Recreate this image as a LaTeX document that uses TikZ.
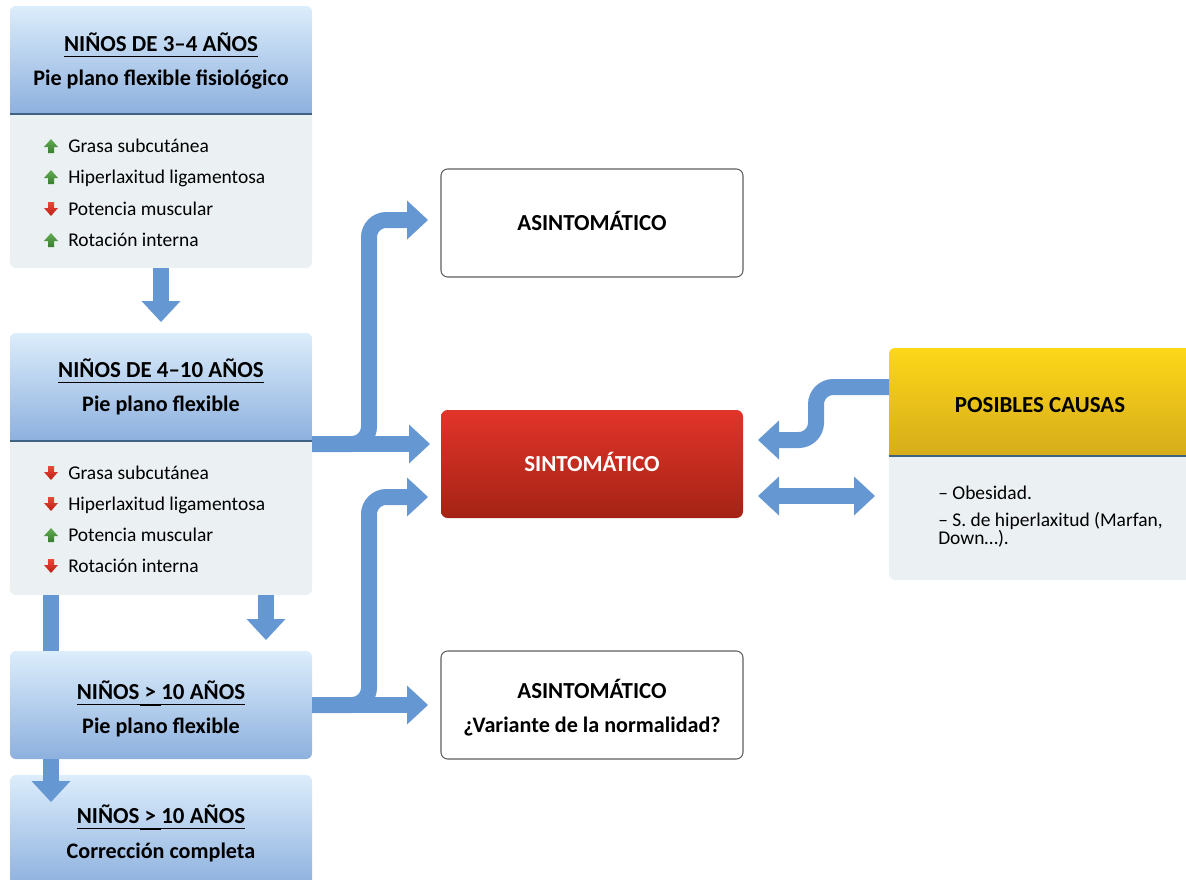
\documentclass[tikz,border=0pt]{standalone}
\usepackage{fontspec}
\setmainfont{Carlito}
\usetikzlibrary{arrows.meta,calc}

\definecolor{cblue}{RGB}{101,152,210}
\definecolor{hdtop}{RGB}{220,237,251}
\definecolor{hdbot}{RGB}{141,176,222}
\definecolor{bodyc}{RGB}{235,240,243}
\definecolor{divc}{RGB}{64,98,130}
\definecolor{redtop}{RGB}{226,52,42}
\definecolor{redbot}{RGB}{164,35,20}
\definecolor{yeltop}{RGB}{253,215,24}
\definecolor{yelbot}{RGB}{214,172,27}
\definecolor{gtop}{RGB}{100,172,84}
\definecolor{gbot}{RGB}{56,126,46}
\definecolor{rtop}{RGB}{234,72,56}
\definecolor{rbot}{RGB}{188,30,20}
\definecolor{edgec}{RGB}{95,95,95}

% underlined heading text
\newcommand\ulin[1]{\setbox0\hbox{#1}\rlap{\rule[-4.4pt]{\wd0}{0.8pt}}\box0\relax}
% heavier underline stroke under the "greater than" sign
\newcommand\thk[1]{\setbox2\hbox{#1}\rlap{\rule[-4.9pt]{\wd2}{1.5pt}}\box2\relax}

\begin{document}
\begin{tikzpicture}[x=0.75pt,y=-0.75pt,
  panel/.style={fill=bodyc, rounded corners=4.5pt, inner sep=0pt, outer sep=0pt},
  bluebox/.style={top color=hdtop, bottom color=hdbot, rounded corners=4.5pt,
    inner sep=0pt, outer sep=0pt, minimum width=226.5pt, minimum height=81pt},
  whitebox/.style={fill=white, draw=edgec, line width=0.8pt, rounded corners=5pt,
    inner sep=0pt, outer sep=0pt, minimum width=226.5pt, minimum height=81pt},
  redbox/.style={top color=redtop, bottom color=redbot, rounded corners=5pt,
    inner sep=0pt, outer sep=0pt, minimum width=226.5pt, minimum height=81pt},
  hdr/.style={font=\fontsize{16.6}{19}\selectfont\bfseries, text height=10.7pt,
    text depth=0pt, inner sep=0pt},
  caps/.style={font=\fontsize{17.2}{20}\selectfont\bfseries, text height=11.1pt,
    text depth=0pt, inner sep=0pt},
  item/.style={font=\fontsize{14.6}{17}\selectfont, text height=9.4pt,
    text depth=0pt, inner sep=0pt, anchor=west},
  divider/.style={draw=divc, line width=1pt},
  shaft/.style={draw=cblue, line width=12pt},
  conn/.style={shaft, -{Triangle[length=15.75pt 0 0, width=29.25pt 0 0, line width=0pt 0 0]}},
  twoway/.style={shaft, {Triangle[length=15.75pt 0 0, width=29.25pt 0 0, line width=0pt 0 0]}-{Triangle[length=15.75pt 0 0, width=29.25pt 0 0, line width=0pt 0 0]}},
  upicon/.pic={\shade[top color=gtop, bottom color=gbot]
    (-7,1) -- (0,-7) -- (7,1) -- (3,1) -- (3,7) -- (-3,7) -- (-3,1) -- cycle;},
  downicon/.pic={\shade[top color=rtop, bottom color=rbot]
    (-3,-7) -- (3,-7) -- (3,-1) -- (7,-1) -- (0,7) -- (-7,-1) -- (-3,-1) -- cycle;}
]
\useasboundingbox (0,0) rectangle (1186,879);
\clip (0,0) rectangle (1186,879);

% ---------- 3-4 years panel ----------
\node[panel, minimum width=226.5pt, minimum height=196.5pt] (b1) at (161,137) {};
\begin{scope}
  \clip[rounded corners=4.5pt] (b1.north west) rectangle (b1.south east);
  \shade[top color=hdtop, bottom color=hdbot] (b1.north west) rectangle ($(b1.north east)+(0,108)$);
\end{scope}
\draw[divider] ($(b1.north west)+(0,108)$) -- ($(b1.north east)+(0,108)$);
\node[caps] (b1t) at ($(b1.north)+(0,38)$) {\ulin{NIÑOS DE 3–4 AÑOS}};
\node[hdr] (b1s) at ($(b1.north)+(0,72)$) {Pie plano flexible fisiológico};
\pic at ($(b1.north west)+(41,140)$) {upicon};
\node[item] (b1i1) at ($(b1.north west)+(58,140)$) {Grasa subcutánea};
\pic at ($(b1.north west)+(41,171)$) {upicon};
\node[item] (b1i2) at ($(b1.north west)+(58,171)$) {Hiperlaxitud ligamentosa};
\pic at ($(b1.north west)+(41,203)$) {downicon};
\node[item] (b1i3) at ($(b1.north west)+(58,203)$) {Potencia muscular};
\pic at ($(b1.north west)+(41,234)$) {upicon};
\node[item] (b1i4) at ($(b1.north west)+(58,234)$) {Rotación interna};

% ---------- 4-10 years panel ----------
\node[panel, minimum width=226.5pt, minimum height=196.5pt] (b2) at (161,464) {};
\begin{scope}
  \clip[rounded corners=4.5pt] (b2.north west) rectangle (b2.south east);
  \shade[top color=hdtop, bottom color=hdbot] (b2.north west) rectangle ($(b2.north east)+(0,108)$);
\end{scope}
\draw[divider] ($(b2.north west)+(0,108)$) -- ($(b2.north east)+(0,108)$);
\node[caps] (b2t) at ($(b2.north)+(0,37)$) {\ulin{NIÑOS DE 4–10 AÑOS}};
\node[hdr] (b2s) at ($(b2.north)+(0,71)$) {Pie plano flexible};
\pic at ($(b2.north west)+(41,140)$) {downicon};
\node[item] (b2i1) at ($(b2.north west)+(58,140)$) {Grasa subcutánea};
\pic at ($(b2.north west)+(41,171)$) {downicon};
\node[item] (b2i2) at ($(b2.north west)+(58,171)$) {Hiperlaxitud ligamentosa};
\pic at ($(b2.north west)+(41,202)$) {upicon};
\node[item] (b2i3) at ($(b2.north west)+(58,202)$) {Potencia muscular};
\pic at ($(b2.north west)+(41,233)$) {downicon};
\node[item] (b2i4) at ($(b2.north west)+(58,233)$) {Rotación interna};

% ---------- older children ----------
\node[bluebox] (b3) at (161,705) {};
\node[caps] (b3t) at ($(b3.north)+(0,41)$) {\ulin{NIÑOS\thk{ > }10 AÑOS}};
\node[hdr] (b3s) at ($(b3.north)+(0,75)$) {Pie plano flexible};

\node[bluebox, minimum height=84pt] (b4) at (161,831) {};
\node[caps] (b4t) at ($(b4.north)+(0,41)$) {\ulin{NIÑOS\thk{ > }10 AÑOS}};
\node[hdr] (b4s) at ($(b4.north)+(0,76)$) {Corrección completa};

% ---------- outcomes ----------
\node[whitebox, caps, minimum width=226.5pt, minimum height=81pt] (a1) at (592,223) {ASINTOMÁTICO};
\node[redbox, caps, text=white, minimum width=226.5pt, minimum height=81pt] (s) at (592,464) {SINTOMÁTICO};
\node[whitebox] (a2) at (592,705) {};
\node[caps] (a2t) at ($(a2.north)+(0,40)$) {ASINTOMÁTICO};
\node[hdr] (a2s) at ($(a2.north)+(0,74)$) {¿Variante de la normalidad?};

% ---------- possible causes ----------
\node[panel, minimum width=229.5pt, minimum height=174pt] (c) at (1042,464) {};
\begin{scope}
  \clip[rounded corners=4.5pt] (c.north west) rectangle (c.south east);
  \shade[top color=yeltop, bottom color=yelbot] (c.north west) rectangle ($(c.north east)+(0,108)$);
\end{scope}
\draw[divider] ($(c.north west)+(0,108)$) -- ($(c.north east)+(0,108)$);
\node[caps] (ct) at ($(c.north)+(-2,57)$) {POSIBLES CAUSAS};
\node[item] (c1) at ($(c.north west)+(49,145)$) {– Obesidad.};
\node[font=\fontsize{14.6}{13.5}\selectfont, inner sep=0pt, anchor=north west, align=left]
  (c2) at ($(c.north west)+(49,164)$) {– S. de hiperlaxitud (Marfan,\\Down…).};

% ---------- connectors ----------
\draw[conn] (b1.south) -- ($(b2.north)+(0,-11)$);
\draw[shaft] ($(b2.south west)+(41,0)$) -- ($(b3.north west)+(41,0)$);
\draw[conn] ($(b2.south east)+(-46,0)$) -- ($(b3.north east)+(-46,-11)$);
\draw[conn] ($(b3.south west)+(41,0)$) -- ($(b4.north west)+(41,27)$);

\draw[conn, rounded corners=13pt] ($(b2.north east)+(0,111)$) -| ($(a1.west)+(-72,-3)$) -- ($(a1.west)+(-13,-3)$);
\draw[conn] ($(b2.north east)+(0,111)$) -- ($(s.west)+(-11,-20)$);

\draw[conn, rounded corners=13pt] (b3.east) -| ($(s.west)+(-72,33)$) -- ($(s.west)+(-13,33)$);
\draw[conn] (b3.east) -- ($(a2.west)+(-13,0)$);

\draw[conn, rounded corners=13pt] ($(c.north west)+(0,39)$) -| ($(s.east)+(73,-24)$) -- ($(s.east)+(15,-24)$);
\draw[twoway] ($(s.east)+(15,32)$) -- ($(c.west)+(-14,32)$);
\end{tikzpicture}
\end{document}
